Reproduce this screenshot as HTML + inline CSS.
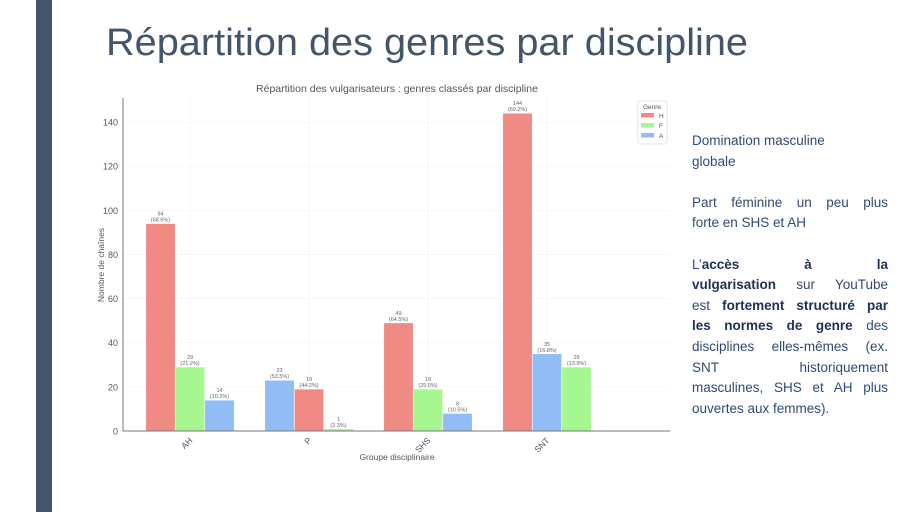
<!DOCTYPE html>
<html><head><meta charset="utf-8"><style>
html,body{margin:0;padding:0;background:#fff;}
body{width:910px;height:512px;position:relative;overflow:hidden;font-family:"Liberation Sans",sans-serif;}
#side{position:absolute;left:36px;top:0;width:16px;height:512px;background:#44546a;}
#notes{position:absolute;left:692px;top:131px;width:196px;font-size:13.5px;line-height:20.6px;color:#2f4a78;}
#notes p{margin:0 0 20.6px 0;}
#notes span{display:block;white-space:nowrap;text-align:justify;text-align-last:justify;}
#notes span.l{text-align-last:left;}
#notes b{color:#1f3058;font-weight:bold;}
</style></head><body>
<div id="side"></div>
<svg width="910" height="512" style="position:absolute;left:0;top:0">
<text x="106" y="55" font-size="38" fill="#44546a" textLength="642" lengthAdjust="spacingAndGlyphs">Répartition des genres par discipline</text>
<g id="chart"></g>
</svg>
<div id="notes">
<p><span class="l">Domination masculine</span><span class="l">globale</span></p>
<p><span>Part féminine un peu plus</span><span class="l">forte en SHS et AH</span></p>
<p><span>L’<b>accès à la</b></span><span><b>vulgarisation</b> sur YouTube</span><span>est <b>fortement structuré par</b></span><span><b>les normes de genre</b> des</span><span>disciplines elles-mêmes (ex.</span><span>SNT historiquement</span><span>masculines, SHS et AH plus</span><span class="l">ouvertes aux femmes).</span></p>
</div>
<script>
const categories=["AH","P","SHS","SNT"];
const seriesOrder=[["H","F","A"],["A","H","F"],["H","F","A"],["H","A","F"]];
const valuesH=[94,19,49,144];
const valuesF=[29,1,19,29];
const valuesA=[14,23,8,35];
const pctH=["68.6%","44.2%","64.5%","69.2%"];
const pctF=["21.2%","2.3%","25.0%","13.9%"];
const pctA=["10.2%","53.5%","10.5%","16.8%"];
const yTicks=[0,20,40,60,80,100,120,140];
const NS="http://www.w3.org/2000/svg";
const g=document.getElementById('chart');
const x0=123,x1=670,yBase=431,yTop=98;
const y=v=>yBase-v*(309/140);
const xc=i=>190+i*119;
const bw=29.5;
const colors={H:"#f08a85",F:"#a6f78f",A:"#91bdf7"};
const vals={H:valuesH,F:valuesF,A:valuesA};
const pcts={H:pctH,F:pctF,A:pctA};
function el(t,a,txt){const e=document.createElementNS(NS,t);for(const k in a)e.setAttribute(k,a[k]);if(txt!==undefined)e.textContent=txt;g.appendChild(e);return e;}
let e;
e=el('text',{x:397,y:92,'font-size':10.5,fill:'#555','text-anchor':'middle'},"Répartition des vulgarisateurs : genres classés par discipline");


yTicks.forEach(t=>{
 e=el('line',{x1:x0,x2:x1,y1:y(t),y2:y(t),stroke:'#ececec','stroke-width':0.8,'stroke-dasharray':'2,2'});
 
 
 e=el('text',{x:x0-5,y:y(t)+3.5,'font-size':9,fill:'#555','text-anchor':'end'},String(t));
 
 
});
categories.forEach((c,i)=>{
 e=el('line',{x1:xc(i),x2:xc(i),y1:yTop,y2:yBase,stroke:'#ececec','stroke-width':0.8,'stroke-dasharray':'2,2'});
 
 
 seriesOrder[i].forEach((s,j)=>{
  const v=vals[s][i];const bx=xc(i)+(j-1)*bw-bw/2;
  e=el('rect',{x:bx,y:y(v),width:bw,height:yBase-y(v),fill:colors[s],stroke:'#fff','stroke-width':0.6});
  
  
  e=el('text',{x:bx+bw/2,y:y(v)-8,'font-size':5.5,fill:'#666','text-anchor':'middle'},String(v));
  
  
  e=el('text',{x:bx+bw/2,y:y(v)-2,'font-size':5.5,fill:'#666','text-anchor':'middle'},"("+pcts[s][i]+")");
  
  
 });
 e=el('text',{x:xc(i)+3,y:yBase+10,'font-size':8.5,fill:'#555','text-anchor':'end',transform:`rotate(-45 ${xc(i)+3} ${yBase+10})`},c);
 
 
});
e=el('line',{x1:x0,x2:x0,y1:yTop,y2:yBase,stroke:'#777','stroke-width':1});


e=el('line',{x1:x0,x2:x1,y1:yBase,y2:yBase,stroke:'#777','stroke-width':1});


e=el('text',{x:397,y:460,'font-size':8.5,fill:'#555','text-anchor':'middle'},"Groupe disciplinaire");


e=el('text',{x:104,y:265,'font-size':8.5,fill:'#555','text-anchor':'middle',transform:'rotate(-90 104 265)'},"Nombre de chaînes");


e=el('rect',{x:638,y:101,width:29,height:43,fill:'#fff',stroke:'#ddd','stroke-width':0.8,rx:2});


e=el('text',{x:652,y:109,'font-size':6.5,fill:'#555','text-anchor':'middle'},"Genre");


["H","F","A"].forEach((s,k)=>{
 e=el('rect',{x:641,y:113+k*10,width:13,height:4.5,fill:colors[s]});
 
 
 e=el('text',{x:659,y:118+k*10,'font-size':6.5,fill:'#555'},s);
 
 
});
</script>
</body></html>
